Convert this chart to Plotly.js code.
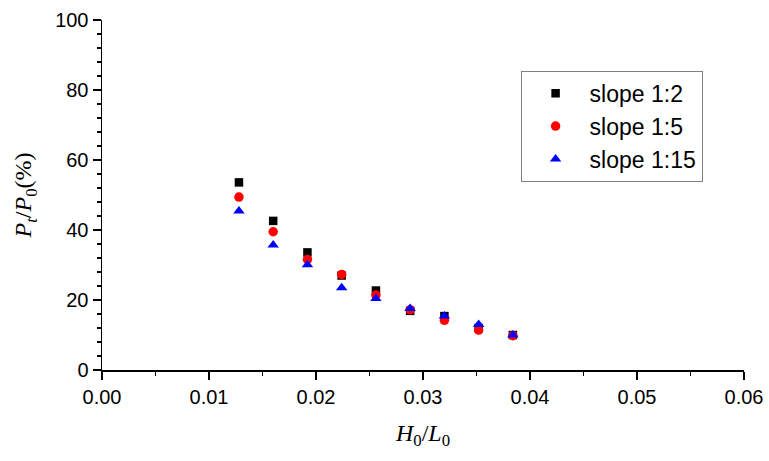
<!DOCTYPE html>
<html>
<head>
<meta charset="utf-8">
<script src="https://cdn.plot.ly/plotly-3.0.1.min.js"></script>
<style>html,body{margin:0;padding:0;background:#fff;}#chart{width:769px;height:461px;}</style>
</head>
<body>
<div id="chart"></div>
<script>
var steepness = [0.0128, 0.0160, 0.0192, 0.0224, 0.0256, 0.0288, 0.0320, 0.0352, 0.0384];
var slope12 = [53.6, 42.6, 33.6, 27.0, 22.7, 16.9, 15.4, 12.0, 10.0];
var slope15 = [49.4, 39.5, 31.6, 27.3, 21.4, 17.2, 14.2, 11.4, 9.8];
var slope115 = [45.4, 35.7, 30.1, 23.5, 20.4, 17.6, 15.4, 13.0, 10.0];
var seriesNames = ['slope 1:2', 'slope 1:5', 'slope 1:15'];

var traces = [
  {x: steepness, y: slope12, name: seriesNames[0], mode: 'markers', type: 'scatter',
   marker: {symbol: 'square', size: 8.5, color: '#000000'}},
  {x: steepness, y: slope15, name: seriesNames[1], mode: 'markers', type: 'scatter',
   marker: {symbol: 'circle', size: 9.5, color: '#ff0000'}},
  {x: steepness, y: slope115, name: seriesNames[2], mode: 'markers', type: 'scatter',
   marker: {symbol: 'triangle-up', size: 10, color: '#0000ff'}}
];

var layout = {
  width: 769, height: 461,
  margin: {l: 102, r: 25, t: 20, b: 91},
  paper_bgcolor: '#ffffff', plot_bgcolor: '#ffffff',
  showlegend: true,
  legend: {
    x: 0.652, y: 0.855, xanchor: 'left', yanchor: 'top',
    bordercolor: '#808080', borderwidth: 1, bgcolor: '#ffffff',
    font: {family: 'Liberation Sans, Arial, sans-serif', size: 23, color: '#000'},
    itemwidth: 58, tracegroupgap: 0
  },
  xaxis: {
    range: [0, 0.06], dtick: 0.01, tick0: 0, tickformat: '.2f',
    showgrid: false, zeroline: false, showline: true, linecolor: '#000', linewidth: 1.5,
    ticks: 'outside', ticklen: 8, tickwidth: 1.5, tickcolor: '#000',
    minor: {dtick: 0.005, ticks: 'outside', ticklen: 4, tickwidth: 1.5, tickcolor: '#000', showgrid: false},
    tickfont: {family: 'Liberation Sans, Arial, sans-serif', size: 20, color: '#000'},
    title: {text: '<i>H</i><sub>0</sub>/<i>L</i><sub>0</sub>', standoff: 17,
            font: {family: 'Liberation Serif, Times New Roman, serif', size: 24, color: '#000'}}
  },
  yaxis: {
    range: [0, 100], dtick: 20, tick0: 0,
    showgrid: false, zeroline: false, showline: true, linecolor: '#000', linewidth: 1.5,
    ticks: 'outside', ticklen: 8, tickwidth: 1.5, tickcolor: '#000',
    minor: {dtick: 4, ticks: 'outside', ticklen: 4, tickwidth: 1.5, tickcolor: '#000', showgrid: false},
    tickfont: {family: 'Liberation Sans, Arial, sans-serif', size: 20, color: '#000'},
    title: {text: '<i>P</i><sub><i>t</i></sub>/<i>P</i><sub>0</sub>(%)', standoff: 16,
            font: {family: 'Liberation Serif, Times New Roman, serif', size: 24, color: '#000'}}
  }
};

Plotly.newPlot('chart', traces, layout, {displayModeBar: false, staticPlot: true});
</script>
</body>
</html>
